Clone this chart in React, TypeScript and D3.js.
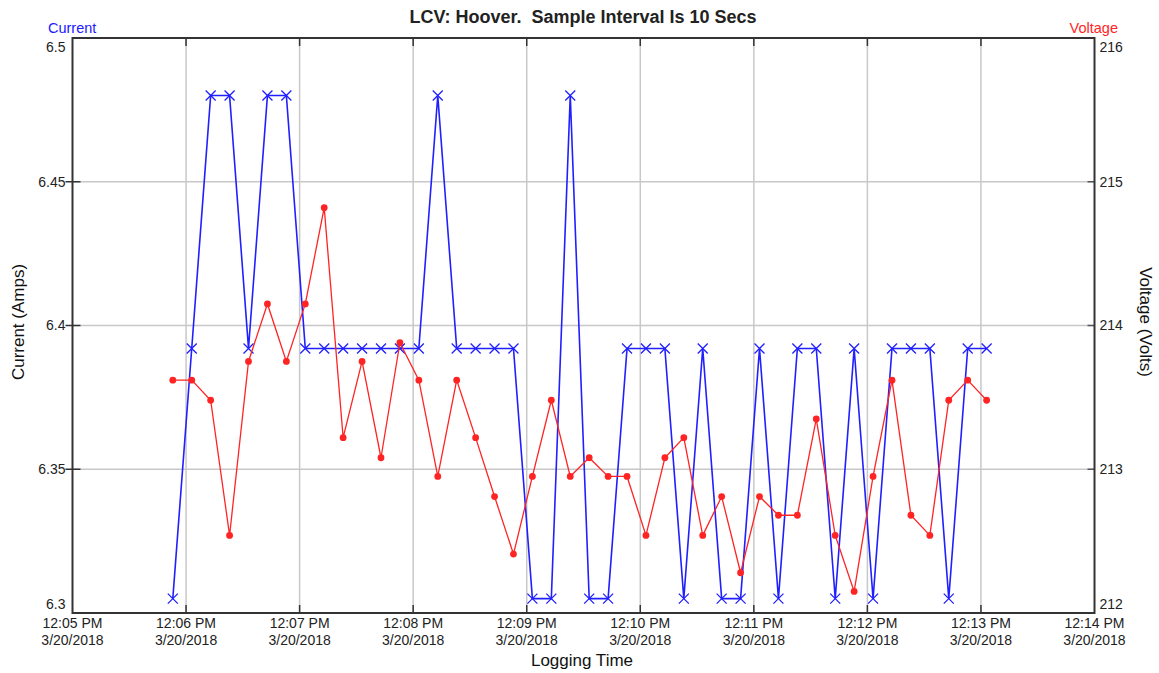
import * as d3 from "d3";

// sample times: logger starts at 12:05:53, one sample every 10 s
const startTime = new Date(2018, 2, 20, 12, 5, 53);
const sampleSecs = 10;

const current = [
  6.305, 6.392, 6.48, 6.48, 6.392, 6.48, 6.48, 6.392, 6.392, 6.392, 6.392,
  6.392, 6.392, 6.392, 6.48, 6.392, 6.392, 6.392, 6.392, 6.305, 6.305, 6.48,
  6.305, 6.305, 6.392, 6.392, 6.392, 6.305, 6.392, 6.305, 6.305, 6.392, 6.305,
  6.392, 6.392, 6.305, 6.392, 6.305, 6.392, 6.392, 6.392, 6.305, 6.392, 6.392,
];

const voltage = [
  213.62, 213.62, 213.48, 212.54, 213.75, 214.15, 213.75, 214.15, 214.82,
  213.22, 213.75, 213.08, 213.88, 213.62, 212.95, 213.62, 213.22, 212.81,
  212.41, 212.95, 213.48, 212.95, 213.08, 212.95, 212.95, 212.54, 213.08,
  213.22, 212.54, 212.81, 212.28, 212.81, 212.68, 212.68, 213.35, 212.54,
  212.15, 212.95, 213.62, 212.68, 212.54, 213.48, 213.62, 213.48,
];

const currentTicks = [6.3, 6.35, 6.4, 6.45, 6.5];
const voltageTicks = [212, 213, 214, 215, 216];
const timeDomain = [new Date(2018, 2, 20, 12, 5), new Date(2018, 2, 20, 12, 14)];

const W = 1159;
const H = 673;
const left = 72.5, right = 1094.5, top = 38, bottom = 613;
const font = "'Liberation Sans', Arial, sans-serif";
const BLUE = "#2020ff";
const RED = "#ff2424";

export default function App() {
  const x = d3.scaleTime().domain(timeDomain).range([left, right]);
  const yL = d3.scaleLinear().domain([6.3, 6.5]).range([bottom, top]);
  const yR = d3.scaleLinear().domain([212, 216]).range([bottom, top]);

  const times = current.map((_, i) => new Date(+startTime + i * sampleSecs * 1000));
  const minutes = d3.timeMinute.every(1)!.range(timeDomain[0], new Date(+timeDomain[1] + 1));
  const fmtTime = d3.timeFormat("%-I:%M %p");
  const fmtDate = d3.timeFormat("%-m/%-d/%Y");

  const lineL = d3.line<number>().x((_, i) => x(times[i])).y((d) => yL(d));
  const lineR = d3.line<number>().x((_, i) => x(times[i])).y((d) => yR(d));

  // end labels are nudged inside the frame, like the original logger software
  const labelY = (py: number) => (py <= top + 1 ? top + 9 : py >= bottom - 1 ? bottom - 9 : py);

  return (
    <svg
      width={W}
      height={H}
      style={{ position: "absolute", left: 0, top: 0, background: "#fff", fontFamily: font }}
    >
      <text
        x={583}
        y={23}
        textAnchor="middle"
        fontWeight="bold"
        fontSize={18}
        fill="#222"
        style={{ whiteSpace: "pre" }}
      >
        {"LCV: Hoover.  Sample Interval Is 10 Secs"}
      </text>
      <text x={48} y={33} fontSize={14.5} fill={BLUE}>Current</text>
      <text x={1118} y={33} fontSize={14.5} fill={RED} textAnchor="end">Voltage</text>

      {/* grid */}
      {minutes.slice(1, -1).map((m) => (
        <line key={+m} x1={x(m)} x2={x(m)} y1={top} y2={bottom} stroke="#c8c8c8" strokeWidth={1.5} />
      ))}
      {currentTicks.slice(1, -1).map((t) => (
        <line key={t} x1={left} x2={right} y1={yL(t)} y2={yL(t)} stroke="#c8c8c8" strokeWidth={1.5} />
      ))}

      {/* tick marks */}
      {minutes.slice(1, -1).map((m) => (
        <g key={"t" + +m} stroke="#333" strokeWidth={1.5}>
          <line x1={x(m)} x2={x(m)} y1={top} y2={top + 8} />
          <line x1={x(m)} x2={x(m)} y1={bottom} y2={bottom - 8} />
        </g>
      ))}
      {currentTicks.slice(1, -1).map((t) => (
        <line key={"l" + t} x1={left - 7} x2={left + 8} y1={yL(t)} y2={yL(t)} stroke="#333" strokeWidth={1.5} />
      ))}
      {voltageTicks.slice(1, -1).map((t) => (
        <line key={"r" + t} x1={right - 7} x2={right} y1={yR(t)} y2={yR(t)} stroke="#555" strokeWidth={1.5} />
      ))}

      {/* frame */}
      <rect x={left} y={top} width={right - left} height={bottom - top} fill="none" stroke="#333" strokeWidth={2} />

      {/* tick labels */}
      {currentTicks.map((t) => (
        <text key={"lt" + t} x={left - 7} y={labelY(yL(t))} dy="0.35em" textAnchor="end" fontSize={14} fill="#222">
          {String(t)}
        </text>
      ))}
      {voltageTicks.map((t) => (
        <text key={"rt" + t} x={right + 5} y={labelY(yR(t))} dy="0.35em" fontSize={14} fill="#222">
          {String(t)}
        </text>
      ))}
      {minutes.map((m) => (
        <text key={"xt" + +m} x={x(m)} textAnchor="middle" fontSize={14} fill="#222">
          <tspan x={x(m)} y={628}>{fmtTime(m)}</tspan>
          <tspan x={x(m)} y={645}>{fmtDate(m)}</tspan>
        </text>
      ))}

      {/* axis titles */}
      <text x={582} y={666} textAnchor="middle" fontSize={17} fill="#111">Logging Time</text>
      <text transform="translate(24,322) rotate(-90)" textAnchor="middle" fontSize={17} fill="#111">
        Current (Amps)
      </text>
      <text transform="translate(1140,322) rotate(90)" textAnchor="middle" fontSize={17} fill="#111">
        Voltage (Volts)
      </text>

      {/* current series */}
      <path d={lineL(current) ?? ""} fill="none" stroke={BLUE} strokeWidth={1.6} />
      {current.map((d, i) => {
        const cx = x(times[i]);
        const cy = yL(d);
        return (
          <path
            key={"c" + i}
            d={`M${cx - 5},${cy - 5}L${cx + 5},${cy + 5}M${cx - 5},${cy + 5}L${cx + 5},${cy - 5}`}
            stroke={BLUE}
            strokeWidth={1.3}
          />
        );
      })}

      {/* voltage series */}
      <path d={lineR(voltage) ?? ""} fill="none" stroke={RED} strokeWidth={1.3} />
      {voltage.map((d, i) => (
        <circle key={"v" + i} cx={x(times[i])} cy={yR(d)} r={3.4} fill={RED} />
      ))}
    </svg>
  );
}
